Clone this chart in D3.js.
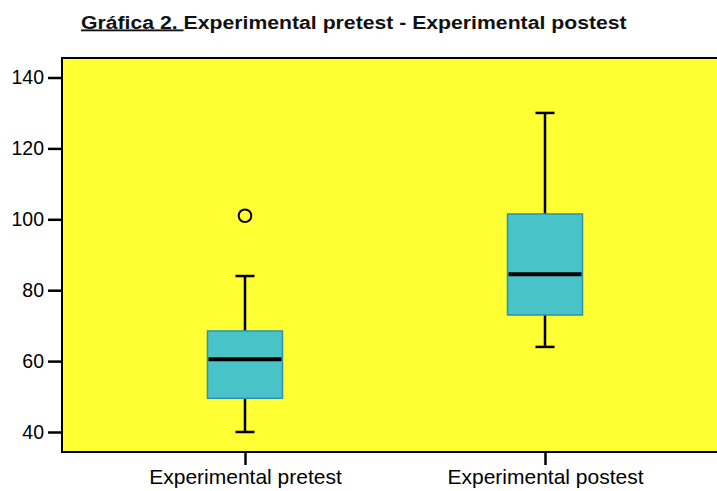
<!DOCTYPE html>
<html><head><meta charset="utf-8">
<script src="https://cdn.jsdelivr.net/npm/d3@7"></script>
<style>body{margin:0;background:#fff;} svg{display:block;font-family:"Liberation Sans",Arial,sans-serif;}</style>
</head><body>
<script>
const categories = ["Experimental pretest", "Experimental postest"];
const whiskerLow = [40, 64];
const q1 = [49.5, 73];
const median = [60.5, 84.5];
const q3 = [68.5, 101.5];
const whiskerHigh = [84, 130];
const outliers = [[101], []];
const yTicks = [40, 60, 80, 100, 120, 140];
const titlePrefix = "Gráfica 2. ";
const titleRest = "Experimental pretest - Experimental postest";

(function () {
const W = 717, H = 491;
const svg = d3.select("body").append("svg").attr("width", W).attr("height", H);
const pLeft = 62, pTop = 58, pBottom = 452, pRight = 730;

const y = d3.scaleLinear().domain([34.36, 145.5]).range([pBottom, pTop]);
const x = d3.scalePoint().domain(categories).range([pLeft, 728]).padding(0.61);

svg.append("rect").attr("x", pLeft).attr("y", pTop).attr("width", pRight - pLeft).attr("height", pBottom - pTop)
  .attr("fill", "#ffff33").attr("stroke", "#000").attr("stroke-width", 2);

// y axis
const yAxis = svg.append("g").attr("transform", `translate(${pLeft},0)`)
  .call(d3.axisLeft(y).tickValues(yTicks).tickSize(14).tickPadding(4).tickFormat(d3.format("d")));
yAxis.select(".domain").remove();
yAxis.selectAll(".tick line").attr("stroke", "#000").attr("stroke-width", 2.5);
yAxis.selectAll(".tick text").attr("font-size", 19.5).attr("fill", "#000").attr("font-family", "Liberation Sans, Arial, sans-serif");

// x axis
const xAxis = svg.append("g").attr("transform", `translate(0,${pBottom})`)
  .call(d3.axisBottom(x).tickSize(13).tickPadding(4));
xAxis.select(".domain").remove();
xAxis.selectAll(".tick line").attr("stroke", "#000").attr("stroke-width", 2.5);
xAxis.selectAll(".tick text").attr("font-size", 21).attr("fill", "#000").attr("font-family", "Liberation Sans, Arial, sans-serif");

const bw = 75, cap = 9.5;
const g = svg.append("g");
categories.forEach((c, i) => {
  const cx = x(c);
  g.append("line").attr("x1", cx).attr("x2", cx).attr("y1", y(q3[i])).attr("y2", y(whiskerHigh[i])).attr("stroke", "#000").attr("stroke-width", 2.5);
  g.append("line").attr("x1", cx).attr("x2", cx).attr("y1", y(q1[i])).attr("y2", y(whiskerLow[i])).attr("stroke", "#000").attr("stroke-width", 2.5);
  g.append("line").attr("x1", cx - cap).attr("x2", cx + cap).attr("y1", y(whiskerHigh[i])).attr("y2", y(whiskerHigh[i])).attr("stroke", "#000").attr("stroke-width", 2.5);
  g.append("line").attr("x1", cx - cap).attr("x2", cx + cap).attr("y1", y(whiskerLow[i])).attr("y2", y(whiskerLow[i])).attr("stroke", "#000").attr("stroke-width", 2.5);
  g.append("rect").attr("x", cx - bw / 2).attr("y", y(q3[i])).attr("width", bw).attr("height", y(q1[i]) - y(q3[i]))
    .attr("fill", "#48c4c8").attr("stroke", "#2b93b0").attr("stroke-width", 1.5);
  g.append("line").attr("x1", cx - bw / 2 + 1).attr("x2", cx + bw / 2 - 1).attr("y1", y(median[i])).attr("y2", y(median[i])).attr("stroke", "#000").attr("stroke-width", 4);
  outliers[i].forEach(v => {
    g.append("circle").attr("cx", cx).attr("cy", y(v)).attr("r", 6.3).attr("fill", "none").attr("stroke", "#000").attr("stroke-width", 2);
  });
});

// title (horizontally stretched as in the reference)
const tg = svg.append("g");
const t = tg.append("text").attr("x", 0).attr("y", 0).attr("font-size", 18.6).attr("font-weight", "bold").attr("fill", "#111");
t.append("tspan").attr("text-decoration", "underline").text(titlePrefix);
t.append("tspan").text(titleRest);
const tw = t.node().getComputedTextLength();
const sx = 546 / tw;
tg.attr("transform", `translate(81,28.5) scale(${sx},1)`);
})();
</script>
</body></html>
